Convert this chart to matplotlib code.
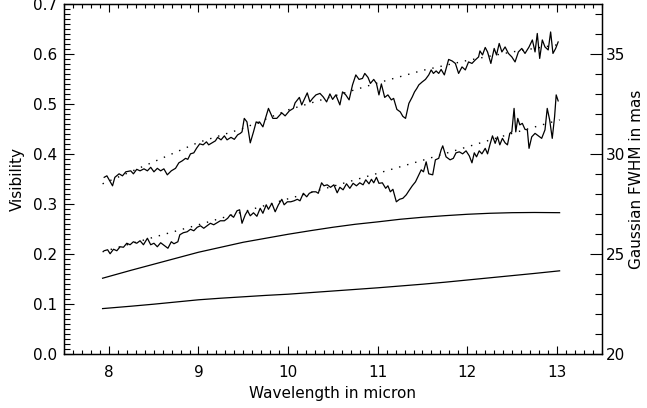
import numpy as np
import matplotlib
matplotlib.use("Agg")
import matplotlib.pyplot as plt
from matplotlib.ticker import MultipleLocator

# upper measured visibility (wavelength in micron, visibility)
wl_up = [7.948, 7.978, 8.003, 8.041, 8.067, 8.114, 8.152, 8.189, 8.244, 8.274,
         8.311, 8.348, 8.392, 8.430, 8.467, 8.503, 8.541, 8.578, 8.614, 8.652,
         8.697, 8.744, 8.781, 8.819, 8.856, 8.881, 8.911, 8.948, 8.978, 9.014,
         9.052, 9.089, 9.114, 9.152, 9.189, 9.214, 9.252, 9.289, 9.319, 9.363,
         9.400, 9.437, 9.467, 9.486, 9.511, 9.541, 9.578, 9.614, 9.644, 9.670,
         9.681, 9.719, 9.781, 9.830, 9.874, 9.930, 9.967, 10.014, 10.059, 10.078,
         10.126, 10.152, 10.178, 10.214, 10.244, 10.274, 10.311, 10.356, 10.392, 10.430,
         10.467, 10.497, 10.533, 10.578, 10.608, 10.644, 10.681, 10.719, 10.756, 10.792,
         10.830, 10.856, 10.892, 10.919, 10.956, 10.986, 11.014, 11.041, 11.078, 11.114,
         11.152, 11.178, 11.214, 11.252, 11.281, 11.311, 11.348, 11.386, 11.411, 11.437,
         11.459, 11.497, 11.533, 11.570, 11.597, 11.622, 11.652, 11.681, 11.708, 11.744,
         11.792, 11.830, 11.867, 11.903, 11.941, 11.978, 12.014, 12.052, 12.089, 12.126,
         12.141, 12.170, 12.200, 12.226, 12.263, 12.300, 12.326, 12.356, 12.386, 12.422,
         12.459, 12.497, 12.533, 12.570, 12.608, 12.644, 12.689, 12.726, 12.756, 12.781,
         12.808, 12.837, 12.867, 12.903, 12.930, 12.956, 12.986, 13.014]
vis_up = [0.354, 0.357, 0.349, 0.337, 0.354, 0.361, 0.357, 0.365, 0.367, 0.361,
          0.370, 0.367, 0.371, 0.367, 0.374, 0.365, 0.372, 0.367, 0.371, 0.359,
          0.367, 0.372, 0.383, 0.387, 0.392, 0.390, 0.401, 0.403, 0.412, 0.421,
          0.419, 0.425, 0.419, 0.423, 0.427, 0.434, 0.429, 0.437, 0.429, 0.434,
          0.430, 0.439, 0.442, 0.445, 0.472, 0.465, 0.423, 0.445, 0.465, 0.462,
          0.465, 0.455, 0.492, 0.472, 0.472, 0.483, 0.477, 0.487, 0.492, 0.503,
          0.514, 0.499, 0.509, 0.523, 0.505, 0.512, 0.519, 0.522, 0.515, 0.505,
          0.521, 0.510, 0.519, 0.499, 0.525, 0.519, 0.509, 0.539, 0.559, 0.550,
          0.552, 0.562, 0.554, 0.542, 0.550, 0.542, 0.519, 0.541, 0.514, 0.519,
          0.509, 0.512, 0.490, 0.485, 0.476, 0.472, 0.502, 0.515, 0.525, 0.532,
          0.539, 0.545, 0.550, 0.559, 0.569, 0.562, 0.567, 0.562, 0.570, 0.559,
          0.590, 0.587, 0.582, 0.562, 0.575, 0.569, 0.585, 0.582, 0.589, 0.595,
          0.607, 0.599, 0.614, 0.605, 0.582, 0.612, 0.599, 0.622, 0.605, 0.615,
          0.602, 0.595, 0.585, 0.605, 0.612, 0.602, 0.615, 0.629, 0.605, 0.642,
          0.592, 0.629, 0.615, 0.609, 0.645, 0.602, 0.612, 0.625]

# lower measured visibility
wl_lo = [7.948, 7.986, 8.014, 8.052, 8.089, 8.126, 8.163, 8.200, 8.237, 8.274,
         8.311, 8.348, 8.386, 8.430, 8.467, 8.503, 8.541, 8.578, 8.622, 8.659,
         8.697, 8.726, 8.770, 8.792, 8.830, 8.874, 8.911, 8.948, 8.986, 9.022,
         9.059, 9.097, 9.133, 9.170, 9.208, 9.244, 9.289, 9.326, 9.356, 9.392,
         9.430, 9.459, 9.486, 9.522, 9.548, 9.578, 9.614, 9.652, 9.689, 9.719,
         9.756, 9.781, 9.819, 9.856, 9.892, 9.930, 9.956, 9.992, 10.030, 10.067,
         10.103, 10.133, 10.170, 10.208, 10.237, 10.274, 10.311, 10.337, 10.374, 10.400,
         10.437, 10.474, 10.511, 10.548, 10.578, 10.614, 10.652, 10.689, 10.726, 10.763,
         10.800, 10.837, 10.867, 10.903, 10.930, 10.956, 10.986, 11.014, 11.052, 11.089,
         11.114, 11.141, 11.170, 11.208, 11.244, 11.281, 11.319, 11.348, 11.386, 11.422,
         11.459, 11.486, 11.511, 11.541, 11.570, 11.614, 11.644, 11.681, 11.708, 11.726,
         11.763, 11.808, 11.844, 11.874, 11.911, 11.948, 11.986, 12.022, 12.052, 12.078,
         12.103, 12.133, 12.163, 12.200, 12.226, 12.252, 12.281, 12.311, 12.337, 12.363,
         12.392, 12.422, 12.448, 12.474, 12.497, 12.522, 12.541, 12.563, 12.586, 12.614,
         12.644, 12.670, 12.689, 12.719, 12.756, 12.792, 12.830, 12.867, 12.892, 12.919,
         12.948, 12.974, 12.992, 13.014]
vis_lo = [0.207, 0.209, 0.201, 0.210, 0.207, 0.215, 0.214, 0.222, 0.219, 0.225,
          0.222, 0.227, 0.219, 0.232, 0.219, 0.222, 0.215, 0.223, 0.217, 0.212,
          0.225, 0.221, 0.225, 0.239, 0.243, 0.245, 0.250, 0.247, 0.254, 0.257,
          0.252, 0.257, 0.262, 0.259, 0.263, 0.267, 0.267, 0.272, 0.279, 0.274,
          0.287, 0.289, 0.262, 0.279, 0.287, 0.277, 0.283, 0.276, 0.292, 0.282,
          0.299, 0.290, 0.302, 0.285, 0.299, 0.310, 0.299, 0.305, 0.305, 0.307,
          0.310, 0.307, 0.322, 0.315, 0.322, 0.325, 0.325, 0.322, 0.343, 0.337,
          0.339, 0.334, 0.339, 0.323, 0.334, 0.329, 0.341, 0.332, 0.342, 0.337,
          0.343, 0.339, 0.349, 0.341, 0.350, 0.343, 0.354, 0.342, 0.343, 0.332,
          0.337, 0.325, 0.330, 0.305, 0.310, 0.312, 0.319, 0.327, 0.337, 0.345,
          0.359, 0.369, 0.365, 0.385, 0.361, 0.359, 0.389, 0.392, 0.409, 0.417,
          0.395, 0.389, 0.392, 0.403, 0.405, 0.401, 0.407, 0.397, 0.383, 0.403,
          0.395, 0.407, 0.401, 0.412, 0.401, 0.419, 0.437, 0.422, 0.435, 0.419,
          0.432, 0.423, 0.419, 0.442, 0.445, 0.492, 0.445, 0.472, 0.459, 0.462,
          0.450, 0.449, 0.412, 0.435, 0.442, 0.437, 0.432, 0.449, 0.492, 0.469,
          0.432, 0.475, 0.519, 0.507]

# model visibilities (dotted)
wl_fit = [7.93, 8.5, 9.0, 9.5, 10.0, 10.5, 11.0, 11.5, 12.0, 12.5, 13.03]
fit_up = [0.341, 0.385, 0.424, 0.452, 0.489, 0.516, 0.543, 0.568, 0.588, 0.605, 0.620]
fit_lo = [0.205, 0.234, 0.259, 0.285, 0.311, 0.336, 0.362, 0.388, 0.415, 0.442, 0.469]

# Gaussian FWHM (mas), right axis
wl_fwhm = [7.93, 8.25, 8.5, 8.75, 9.0, 9.25, 9.5, 9.75, 10.0, 10.25, 10.5,
           10.75, 11.0, 11.25, 11.5, 11.75, 12.0, 12.25, 12.5, 12.75, 13.03]
fwhm_a = [23.8, 24.2, 24.5, 24.8, 25.1, 25.35, 25.6, 25.8, 26.0, 26.18, 26.35,
          26.5, 26.62, 26.75, 26.85, 26.93, 27.0, 27.05, 27.08, 27.09, 27.08]
fwhm_b = [22.28, 22.4, 22.5, 22.61, 22.72, 22.8, 22.87, 22.94, 23.0, 23.08, 23.16,
          23.24, 23.32, 23.41, 23.5, 23.6, 23.71, 23.82, 23.93, 24.04, 24.17]

fig = plt.figure(figsize=(6.47, 4.08), dpi=100)
ax = fig.add_axes([0.099, 0.132, 0.831, 0.857])

ax.plot(wl_up, vis_up, color='k', lw=0.9)
ax.plot(wl_lo, vis_lo, color='k', lw=0.9)
ax.plot(wl_fit, fit_up, color='k', lw=1.0, ls=(0, (1, 5)))
ax.plot(wl_fit, fit_lo, color='k', lw=1.0, ls=(0, (1, 5)))

ax.set_xlim(7.5, 13.5)
ax.set_ylim(0.0, 0.7)
ax.xaxis.set_major_locator(MultipleLocator(1))
ax.xaxis.set_minor_locator(MultipleLocator(0.1))
ax.yaxis.set_major_locator(MultipleLocator(0.1))
ax.yaxis.set_minor_locator(MultipleLocator(0.01))
ax.yaxis.set_major_formatter(matplotlib.ticker.FormatStrFormatter('%.1f'))
ax.tick_params(which='both', direction='in', top=True, right=False, labelsize=11, width=0.8)
ax.tick_params(axis='x', which='major', length=6, pad=8)
ax.tick_params(axis='x', which='minor', length=3)
ax.tick_params(axis='y', which='major', length=7, pad=5)
ax.tick_params(axis='y', which='minor', length=4)
ax.set_xlabel('Wavelength in micron', fontsize=11, labelpad=4)
ax.set_ylabel('Visibility', fontsize=11, labelpad=6)
for s in ax.spines.values():
    s.set_linewidth(1.0)

ax2 = ax.twinx()
ax2.plot(wl_fwhm, fwhm_a, color='k', lw=0.9)
ax2.plot(wl_fwhm, fwhm_b, color='k', lw=0.9)
ax2.set_ylim(20, 37.5)
ax2.yaxis.set_major_locator(MultipleLocator(5))
ax2.yaxis.set_minor_locator(MultipleLocator(1))
ax2.tick_params(which='both', direction='in', labelsize=11, width=0.8)
ax2.tick_params(which='major', length=9, pad=3)
ax2.tick_params(which='minor', length=5)
ax2.set_ylabel('Gaussian FWHM in mas', fontsize=11, labelpad=3)

fig.savefig('out.png', dpi=100)
